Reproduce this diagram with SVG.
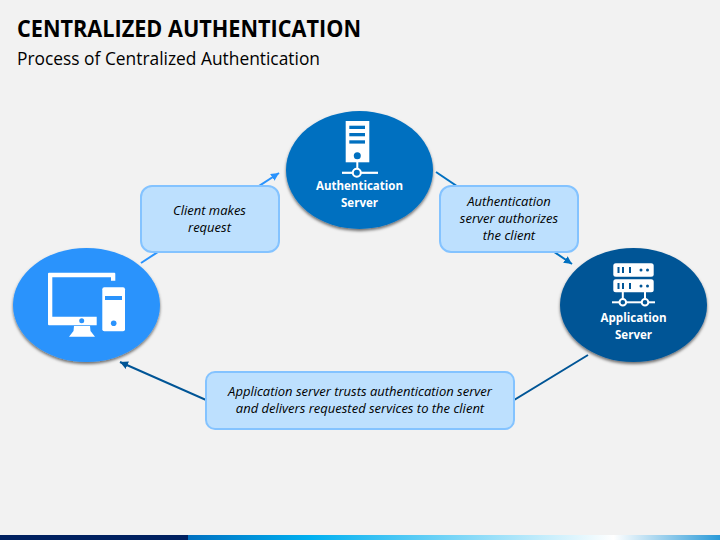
<svg xmlns="http://www.w3.org/2000/svg" width="720" height="540" viewBox="0 0 720 540">
<style>
text{font-family:"Open Sans","Noto Sans",sans-serif}
.title{font-size:24px;font-weight:700;fill:#000}
.sub{font-size:17.5px;fill:#000}
.lbl{font-size:12px;font-weight:700;fill:#fff;text-anchor:middle}
.note{font-size:13px;font-style:italic;fill:#000;text-anchor:middle}
.box{fill:#bde0fe;stroke:#84c3ff;stroke-width:2}
.wh{fill:#fff}
.conn{fill:none;stroke-width:2}
</style>
<defs>
<linearGradient id="bar" x1="188" x2="720" y1="0" y2="0" gradientUnits="userSpaceOnUse">
<stop offset="0" stop-color="#0070c0"/><stop offset=".23" stop-color="#00b0f0"/><stop offset=".8" stop-color="#ffffff"/><stop offset="1" stop-color="#2a9ad8"/>
</linearGradient>
<filter id="sh" x="-15%" y="-15%" width="130%" height="135%"><feDropShadow dx="0" dy="2" stdDeviation="1.6" flood-color="#000" flood-opacity=".55"/></filter>
<marker id="a1" markerUnits="userSpaceOnUse" markerWidth="10" markerHeight="10" refX="8" refY="4" orient="auto"><path d="M0 0L8 4L0 8z" fill="#2a93fc"/></marker>
<marker id="a2" markerUnits="userSpaceOnUse" markerWidth="10" markerHeight="10" refX="8" refY="4" orient="auto"><path d="M0 0L8 4L0 8z" fill="#0070c0"/></marker>
<marker id="a3" markerUnits="userSpaceOnUse" markerWidth="10" markerHeight="10" refX="8" refY="4" orient="auto"><path d="M0 0L8 4L0 8z" fill="#005596"/></marker>
</defs>
<rect width="720" height="540" fill="#f2f2f2"/>
<g id="header">
<text class="title" x="17" y="37" textLength="344" lengthAdjust="spacingAndGlyphs">CENTRALIZED AUTHENTICATION</text>
<text class="sub" x="17" y="65" textLength="303" lengthAdjust="spacingAndGlyphs">Process of Centralized Authentication</text>
</g>
<g id="footer-bar">
<rect x="188" y="535" width="532" height="5" fill="url(#bar)"/>
<rect x="0" y="535" width="188" height="5" fill="#002060"/>
</g>
<g id="connectors">
<path class="conn" d="M141 263L279 173" stroke="#2a93fc" marker-end="url(#a1)"/>
<path class="conn" d="M436 172L572 264" stroke="#0070c0" marker-end="url(#a2)"/>
<path class="conn" d="M588 355L514 400H206L120 362" stroke="#005596" marker-end="url(#a3)"/>
</g>
<g id="client">
<ellipse cx="86.5" cy="305" rx="73.5" ry="57" fill="#2a93fc" filter="url(#sh)"/>
<path class="wh" d="M49 272.7H114.3Q115.3 272.7 115.3 273.7V280.7H111V277.3H52.3V316.7H96.7V325.3H49Q48 325.3 48 324.3V273.7Q48 272.7 49 272.7z"/>
<circle cx="81.7" cy="320.8" r="2.5" fill="#2a93fc"/>
<path class="wh" d="M74 326H90L90.5 331L95 336.7H69L73.5 331z"/>
<rect class="wh" x="102.3" y="287.3" width="22.7" height="44" rx="2"/>
<rect x="105" y="296" width="17" height="4" fill="#2a93fc"/>
<circle cx="113.7" cy="323.3" r="2.8" fill="#2a93fc"/>
</g>
<g id="auth-server">
<ellipse cx="359.5" cy="170" rx="73.5" ry="59" fill="#0070c0" filter="url(#sh)"/>
<rect class="wh" x="345.7" y="121" width="23.6" height="41.3"/>
<g fill="#0070c0"><rect x="349.3" y="125.7" width="15.7" height="3.3"/><rect x="349.3" y="133" width="15.7" height="3.3"/><rect x="349.3" y="140.3" width="15.7" height="3.3"/><circle cx="357.3" cy="155.7" r="3.5"/></g>
<rect class="wh" x="356.3" y="162" width="2" height="7"/>
<rect class="wh" x="342" y="171.7" width="36" height="2.2"/>
<circle cx="356.8" cy="172.8" r="4" fill="#0070c0" stroke="#fff" stroke-width="2"/>
<text class="lbl" x="359.5" y="190" textLength="87" lengthAdjust="spacingAndGlyphs">Authentication</text>
<text class="lbl" x="359.5" y="207" textLength="37" lengthAdjust="spacingAndGlyphs">Server</text>
</g>
<g id="app-server">
<ellipse cx="633.5" cy="305" rx="73.5" ry="57" fill="#005596" filter="url(#sh)"/>
<rect class="wh" x="613.3" y="263.3" width="40.4" height="13.4" rx="2.5"/>
<rect class="wh" x="613.3" y="279.3" width="40.4" height="13" rx="2.5"/>
<g fill="#005596">
<rect x="617.5" y="267" width="2" height="6"/><rect x="622" y="267" width="2" height="6"/><rect x="629" y="267" width="2" height="6"/><circle cx="641" cy="270" r="1.5"/><circle cx="647.5" cy="270" r="1.5"/>
<rect x="617.5" y="283" width="2" height="6"/><rect x="622" y="283" width="2" height="6"/><rect x="629" y="283" width="2" height="6"/><circle cx="641" cy="286" r="1.5"/><circle cx="647.5" cy="286" r="1.5"/>
</g>
<rect class="wh" x="621.8" y="292" width="2" height="9"/><rect class="wh" x="644" y="292" width="2" height="9"/>
<rect class="wh" x="612" y="301.3" width="43" height="2"/>
<circle cx="622.8" cy="302.3" r="3.3" fill="#005596" stroke="#fff" stroke-width="2"/>
<circle cx="645" cy="302.3" r="3.3" fill="#005596" stroke="#fff" stroke-width="2"/>
<text class="lbl" x="633.5" y="322" textLength="66" lengthAdjust="spacingAndGlyphs">Application</text>
<text class="lbl" x="633.5" y="339" textLength="37" lengthAdjust="spacingAndGlyphs">Server</text>
</g>
<g id="note-client">
<rect class="box" x="141" y="186" width="138" height="66" rx="11"/>
<text class="note" x="209.5" y="215">Client makes</text>
<text class="note" x="209.5" y="232">request</text>
</g>
<g id="note-auth">
<rect class="box" x="440" y="186" width="138" height="66" rx="11"/>
<text class="note" x="509" y="206">Authentication</text>
<text class="note" x="509" y="223">server authorizes</text>
<text class="note" x="509" y="240">the client</text>
</g>
<g id="note-app">
<rect class="box" x="206" y="372" width="308" height="57" rx="9"/>
<text class="note" x="360" y="396">Application server trusts authentication server</text>
<text class="note" x="360" y="413">and delivers requested services to the client</text>
</g>
</svg>
